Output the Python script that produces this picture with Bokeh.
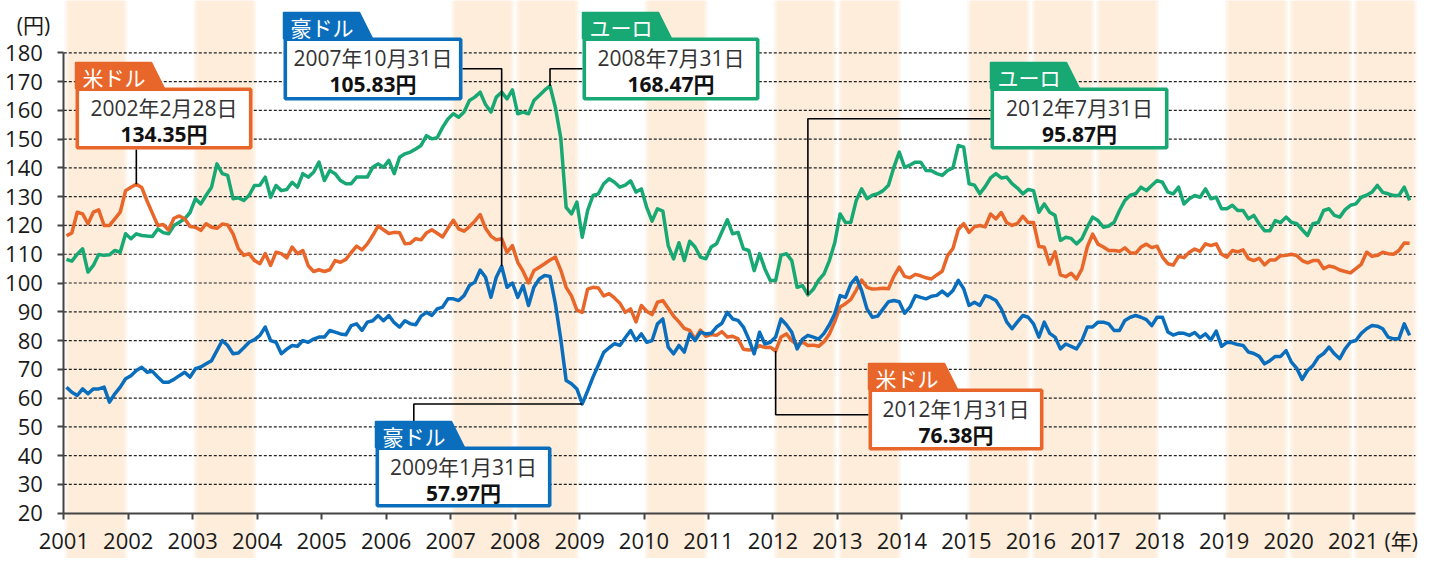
from bokeh.plotting import figure
from bokeh.models import Range1d, FixedTicker, Label
from bokeh.embed import file_html
from bokeh.resources import INLINE
from bokeh.core.properties import value

# ---------------- data (month-end rates, Jan 2001 - Nov 2021) ----------------
usd = [
    116.4, 117.4, 124.6, 124.0, 120.6, 124.6, 125.4, 120.0, 120.0, 122.3, 124.6, 132.1,  # 2001
    133.3, 134.35, 133.2, 128.5, 124.2, 120.0, 120.3, 118.4, 122.5, 123.3, 122.3, 119.6,  # 2002
    119.4, 118.3, 120.6, 119.4, 119.0, 120.5, 120.2, 117.1, 111.9, 109.6, 110.2, 107.8,  # 2003
    106.7, 110.2, 106.1, 110.7, 110.2, 108.7, 112.5, 110.2, 111.3, 106.0, 104.0, 104.6,  # 2004
    104.0, 104.6, 107.8, 107.2, 108.2, 110.6, 112.8, 111.5, 113.6, 116.5, 119.8, 118.5,  # 2005
    117.2, 117.6, 117.5, 113.6, 113.8, 115.4, 115.0, 117.4, 118.5, 117.3, 116.0, 119.0,  # 2006
    121.8, 118.8, 118.0, 119.6, 121.5, 123.8, 119.0, 116.3, 115.0, 115.4, 110.6, 113.0,  # 2007
    107.2, 104.0, 100.0, 104.3, 105.5, 106.7, 108.0, 109.0, 104.5, 98.5, 95.5, 90.6,  # 2008
    89.8, 97.9, 98.5, 98.3, 95.5, 96.3, 94.8, 93.0, 89.8, 91.0, 86.5, 92.2,  # 2009
    90.2, 89.0, 93.3, 93.9, 91.2, 88.5, 86.5, 84.2, 83.5, 80.5, 83.6, 81.5,  # 2010
    82.1, 81.8, 83.1, 81.2, 81.5, 80.6, 77.0, 76.7, 77.0, 78.2, 77.6, 77.7,  # 2011
    76.38, 81.2, 82.3, 80.0, 78.5, 79.5, 78.3, 78.4, 78.0, 79.6, 82.3, 86.6,  # 2012
    91.7, 92.8, 94.3, 97.5, 101.0, 98.5, 97.9, 98.0, 98.2, 98.0, 102.3, 105.5,  # 2013
    102.3, 101.8, 103.0, 102.5, 101.8, 101.4, 102.8, 104.1, 109.5, 112.0, 118.6, 120.6,  # 2014
    117.6, 119.5, 120.0, 119.5, 124.0, 122.3, 124.5, 121.0, 120.0, 120.7, 123.2, 121.0,  # 2015
    121.0, 112.7, 112.4, 106.5, 110.8, 102.8, 102.2, 103.4, 101.4, 104.8, 112.5, 117.0,  # 2016
    113.5, 112.5, 111.3, 111.3, 111.0, 112.2, 110.5, 110.3, 112.5, 113.5, 112.3, 112.8,  # 2017
    109.0, 106.7, 106.2, 109.3, 108.8, 110.7, 111.8, 111.0, 113.6, 113.0, 113.6, 110.0,  # 2018
    109.0, 111.3, 110.8, 111.5, 108.5, 107.8, 108.6, 106.3, 108.0, 108.0, 109.5, 109.6,  # 2019
    110.0, 109.5, 107.8, 107.0, 107.8, 107.8, 105.0, 105.9, 105.5, 104.5, 104.0, 103.5,  # 2020
    105.0, 106.5, 110.7, 109.3, 109.6, 110.7, 110.2, 110.0, 111.3, 113.9, 113.8,  # 2021
]
eur = [
    108.2, 107.6, 110.0, 111.9, 103.8, 106.1, 109.9, 109.6, 109.8, 111.3, 110.7, 117.1,  # 2001
    115.4, 117.1, 116.5, 116.3, 116.2, 118.8, 117.5, 117.1, 120.0, 121.1, 122.3, 124.5,  # 2002
    129.3, 127.5, 130.5, 133.3, 141.4, 138.0, 137.4, 129.3, 129.6, 128.7, 130.5, 133.9,  # 2003
    134.0, 136.8, 129.8, 133.9, 132.1, 132.5, 135.0, 133.3, 138.0, 136.8, 138.5, 142.0,  # 2004
    135.6, 139.1, 138.0, 135.6, 134.5, 134.5, 136.8, 136.8, 136.8, 140.2, 141.4, 140.2,  # 2005
    142.6, 138.0, 143.7, 144.9, 145.5, 146.6, 147.8, 151.2, 150.1, 150.5, 154.1, 157.0,  # 2006
    158.8, 157.6, 159.4, 163.4, 164.6, 166.3, 162.0, 159.4, 164.6, 166.3, 164.0, 167.1,  # 2007
    158.8, 159.4, 158.8, 163.4, 165.2, 167.0, 168.47, 161.0, 150.5, 126.3, 124.0, 128.1,  # 2008
    115.9, 125.2, 130.4, 131.0, 134.5, 136.2, 135.0, 133.3, 134.0, 135.5, 131.6, 132.7,  # 2009
    126.3, 121.5, 125.8, 125.0, 113.0, 108.4, 114.0, 107.8, 114.5, 112.5, 109.0, 108.4,  # 2010
    112.5, 113.6, 117.8, 122.0, 117.1, 117.6, 111.9, 111.3, 104.3, 110.2, 104.9, 100.9,  # 2011
    100.9, 109.6, 110.2, 107.8, 98.5, 99.1, 95.87, 97.8, 101.0, 103.2, 107.8, 114.0,  # 2012
    124.0, 121.0, 121.1, 128.7, 132.7, 129.3, 130.5, 131.0, 132.1, 134.0, 140.2, 145.5,  # 2013
    140.2, 141.0, 142.0, 142.0, 139.1, 139.0, 138.0, 137.4, 139.1, 140.0, 147.8, 147.2,  # 2014
    134.5, 134.0, 131.0, 133.5, 136.5, 138.0, 136.5, 136.8, 134.5, 133.0, 131.0, 132.5,  # 2015
    132.1, 124.6, 127.5, 124.6, 123.5, 114.8, 115.9, 115.5, 113.6, 115.4, 119.4, 122.9,  # 2016
    121.7, 119.4, 119.8, 121.1, 125.2, 128.7, 130.5, 131.0, 133.3, 132.1, 133.9, 135.6,  # 2017
    135.0, 131.6, 131.0, 133.3, 127.5, 129.3, 130.4, 129.8, 132.7, 129.3, 129.8, 125.8,  # 2018
    125.8, 127.0, 125.2, 125.2, 122.3, 123.5, 120.5, 118.2, 118.2, 121.7, 121.0, 122.9,  # 2019
    121.1, 120.6, 118.5, 116.5, 120.6, 121.0, 125.2, 125.8, 123.5, 122.9, 125.5, 127.0,  # 2020
    127.5, 129.8, 130.5, 131.6, 133.9, 131.5, 131.0, 130.4, 130.4, 133.3, 128.7,  # 2021
]
aud = [
    63.8, 62.0, 60.9, 63.2, 61.5, 63.2, 63.2, 63.8, 58.6, 61.5, 63.8, 66.7,  # 2001
    67.8, 69.6, 70.7, 69.0, 69.3, 67.3, 65.5, 65.5, 66.5, 67.8, 69.0, 67.3,  # 2002
    70.2, 70.8, 71.9, 73.0, 76.5, 80.0, 78.3, 75.4, 75.7, 77.5, 79.4, 80.3,  # 2003
    81.8, 84.7, 80.0, 79.4, 75.4, 77.0, 78.3, 78.0, 80.0, 79.4, 80.5, 81.2,  # 2004
    81.2, 83.5, 82.9, 82.3, 82.0, 85.2, 85.8, 83.5, 86.4, 86.9, 88.7, 86.9,  # 2005
    88.7, 86.2, 84.7, 86.9, 85.8, 85.5, 88.5, 89.8, 88.7, 91.0, 91.6, 94.5,  # 2006
    94.5, 93.9, 95.6, 99.1, 100.3, 104.5, 102.0, 95.0, 102.0, 105.83, 98.5, 100.0,  # 2007
    95.0, 99.1, 92.2, 98.5, 101.4, 102.6, 102.3, 92.8, 80.5, 66.1, 65.0, 63.2,  # 2008
    57.97, 62.5, 67.3, 71.5, 75.9, 77.5, 78.9, 78.3, 81.0, 83.5, 80.0, 82.3,  # 2009
    79.4, 80.0, 85.8, 87.5, 77.7, 75.4, 78.3, 76.0, 82.3, 80.0, 82.9, 82.3,  # 2010
    82.5, 84.7, 86.0, 89.8, 87.5, 87.0, 84.7, 80.5, 75.4, 82.9, 78.8, 79.4,  # 2011
    81.2, 87.5, 85.5, 82.9, 77.1, 80.5, 81.8, 81.2, 80.5, 82.5, 85.5, 89.3,  # 2012
    95.6, 95.0, 99.7, 102.0, 97.4, 91.0, 88.1, 88.5, 91.0, 93.5, 93.9, 93.5,  # 2013
    89.5, 91.6, 95.6, 95.0, 94.5, 95.4, 95.7, 97.2, 95.6, 97.4, 100.9, 98.0,  # 2014
    92.2, 93.3, 92.2, 95.6, 95.0, 93.9, 91.0, 86.5, 84.1, 86.5, 88.7, 88.1,  # 2015
    85.8, 81.2, 86.4, 82.5, 81.2, 77.1, 78.8, 78.0, 77.1, 80.0, 84.7, 84.7,  # 2016
    86.4, 86.4, 85.8, 83.5, 83.5, 87.0, 88.1, 88.7, 88.1, 87.3, 85.2, 88.1,  # 2017
    88.1, 83.0, 81.9, 82.6, 82.5, 81.8, 82.8, 81.0, 82.3, 80.2, 83.3, 78.0,  # 2018
    79.4, 79.2, 78.6, 78.3, 76.0, 75.5, 74.5, 71.9, 73.0, 74.5, 74.5, 76.5,  # 2019
    72.5, 70.3, 66.5, 69.6, 71.3, 74.2, 75.5, 77.7, 75.4, 73.7, 77.1, 79.5,  # 2020
    80.0, 82.5, 84.1, 85.2, 85.0, 84.1, 81.2, 80.6, 80.6, 85.8, 81.8,  # 2021
]

years = list(range(2001, 2022))
year_labels = [str(y) for y in years]
y_ticks = list(range(20, 181, 10))
band_years = [2001, 2003, 2007, 2008, 2010, 2012, 2013, 2015, 2016, 2017, 2019, 2020, 2021]

callout_series = ["usd", "aud", "eur", "eur", "aud", "usd"]
callout_year = [2002, 2007, 2008, 2012, 2009, 2012]
callout_month = [2, 10, 7, 7, 1, 1]
callout_tag = ["米ドル", "豪ドル", "ユーロ", "ユーロ", "豪ドル", "米ドル"]
callout_date = ["2002年2月28日", "2007年10月31日", "2008年7月31日", "2012年7月31日", "2009年1月31日", "2012年1月31日"]
callout_value = ["134.35円", "105.83円", "168.47円", "95.87円", "57.97円", "76.38円"]

# ---------------- layout / style ----------------
FONT = "Open Sans, Noto Sans CJK JP"
CJK = "Noto Sans CJK JP"
ORANGE = "#E8662A"
GREEN = "#17A874"
BLUE = "#0A6EBD"
W, H = 1440, 558
PX_YEAR = 64.47
PX_UNIT = 2.8775
X2001_PX = 63.3      # page px where 2001 sits
Y180_PX = 52.3       # page px where 180 sits
x_start = 2001 - X2001_PX / PX_YEAR
x_end = x_start + W / PX_YEAR
y_end = 180 + Y180_PX / PX_UNIT
y_start = y_end - H / PX_UNIT


def X(px):
    return x_start + px / PX_YEAR


def Y(py):
    return y_end - py / PX_UNIT


series = {"usd": usd, "eur": eur, "aud": aud}
colors = {"usd": ORANGE, "eur": GREEN, "aud": BLUE}
t = [2001 + (i + 0.5) / 12 for i in range(len(usd))]

# box (left, top, right, bottom) in page px; connector waypoints (None = data point coord)
boxes = [(75, 87, 252, 149), (283, 37, 462, 100), (582, 37, 759, 100),
         (990, 87, 1168, 149), (375, 446, 551, 507), (868, 388, 1043, 450)]
paths = [
    [(None, 149)],
    [(None, 68.3), (462, 68.3)],
    [(None, 68.3), (582, 68.3)],
    [(None, 118.3), (990, 118.3)],
    [(413.3, None), (413.3, 422)],
    [(None, 414.3), (868, 414.3)],
]

p = figure(width=W, height=H, x_range=Range1d(x_start, x_end), y_range=Range1d(y_start, y_end),
           output_backend="svg", toolbar_location=None,
           min_border_left=0, min_border_right=0, min_border_top=0, min_border_bottom=0)
p.outline_line_color = None
p.grid.visible = False
p.background_fill_color = "white"
p.border_fill_color = "white"

# background bands (stepped soft edges)
for inset, col in [(0.012, "#FEF8F0"), (0.04, "#FDF2E5"), (0.07, "#FDEDDA")]:
    p.quad(left=[b + inset for b in band_years], right=[b + 1 - inset for b in band_years],
           bottom=y_start, top=y_end, fill_color=col, line_color=None)

# dotted grid lines
gv = y_ticks[1:]
p.segment(x0=[2001] * len(gv), x1=[X(1415)] * len(gv), y0=gv, y1=gv,
          line_color="#222222", line_width=1.2, line_dash="3 2")

# series
p.line(t, eur, line_color=GREEN, line_width=3.5, line_join="round")
p.line(t, usd, line_color=ORANGE, line_width=3.5, line_join="round")
p.line(t, aud, line_color=BLUE, line_width=3.5, line_join="round")

# axes
xa = p.xaxis[0]
xa.fixed_location = 20
xa.bounds = (2001, X(1415))
xa.ticker = FixedTicker(ticks=years)
xa.major_label_overrides = {y: s for y, s in zip(years, year_labels)}
ya = p.yaxis[0]
ya.fixed_location = 2001
ya.bounds = (20, 180)
ya.ticker = FixedTicker(ticks=y_ticks)
ya.major_label_overrides = {v: str(v) for v in y_ticks}
for ax in (xa, ya):
    ax.axis_line_color = "#444444"
    ax.axis_line_width = 2
    ax.major_tick_line_color = "#444444"
    ax.major_tick_line_width = 2
    ax.major_tick_out = 6
    ax.major_tick_in = 0
    ax.minor_tick_line_color = None
    ax.major_label_text_font = FONT
    ax.major_label_text_font_size = "22px"
    ax.major_label_text_color = "#1a1a1a"
xa.major_label_standoff = 14
ya.major_label_standoff = 15

p.add_layout(Label(x=X(33), y=Y(24), text="(円)", text_font=FONT, text_font_size="21px",
                   text_align="center", text_baseline="middle", text_color="#1a1a1a"))
p.add_layout(Label(x=X(1384), y=Y(540), text="(年)", text_font=FONT, text_font_size="21px",
                   text_align="left", text_baseline="middle", text_color="#1a1a1a"))

# callouts
for k in range(len(callout_tag)):
    key = callout_series[k]
    arr = series[key]
    col = colors[key]
    i = (callout_year[k] - 2001) * 12 + callout_month[k] - 1
    px, py = t[i], arr[i]
    xs, ys = [px], [py]
    for wx, wy in paths[k]:
        xs.append(px if wx is None else X(wx))
        ys.append(py if wy is None else Y(wy))
    p.line(xs, ys, line_color="black", line_width=1.6)

    l, tp, r, b = boxes[k]
    # tag
    tag_top, tag_bot = tp - 25, tp + 1
    p.patch([X(l), X(l + 76), X(l + 89), X(l)], [Y(tag_top), Y(tag_top), Y(tag_bot), Y(tag_bot)],
            fill_color=col, line_color=col, line_width=1.5)
    # box
    p.quad(left=[X(l + 1.8)], right=[X(r - 1.8)], top=[Y(tp + 1.8)], bottom=[Y(b - 1.8)],
           fill_color="white", line_color=col, line_width=3.6)
    cx = (l + r) / 2
    p.text(x=[X(l + 7)], y=[Y((tag_top + tag_bot) / 2 + 1)], text=[callout_tag[k]],
           text_font=value(CJK), text_font_size="21px", text_color="white",
           text_align="left", text_baseline="middle")
    p.text(x=[X(cx)], y=[Y(tp + 20)], text=[callout_date[k]],
           text_font=value(FONT), text_font_size="21px", text_color="#333333",
           text_align="center", text_baseline="middle")
    p.text(x=[X(cx)], y=[Y(tp + 46)], text=[callout_value[k]],
           text_font=value(FONT), text_font_size="21px", text_font_style="bold",
           text_color="#111111", text_align="center", text_baseline="middle")

open("out.html", "w").write(file_html(p, INLINE))
